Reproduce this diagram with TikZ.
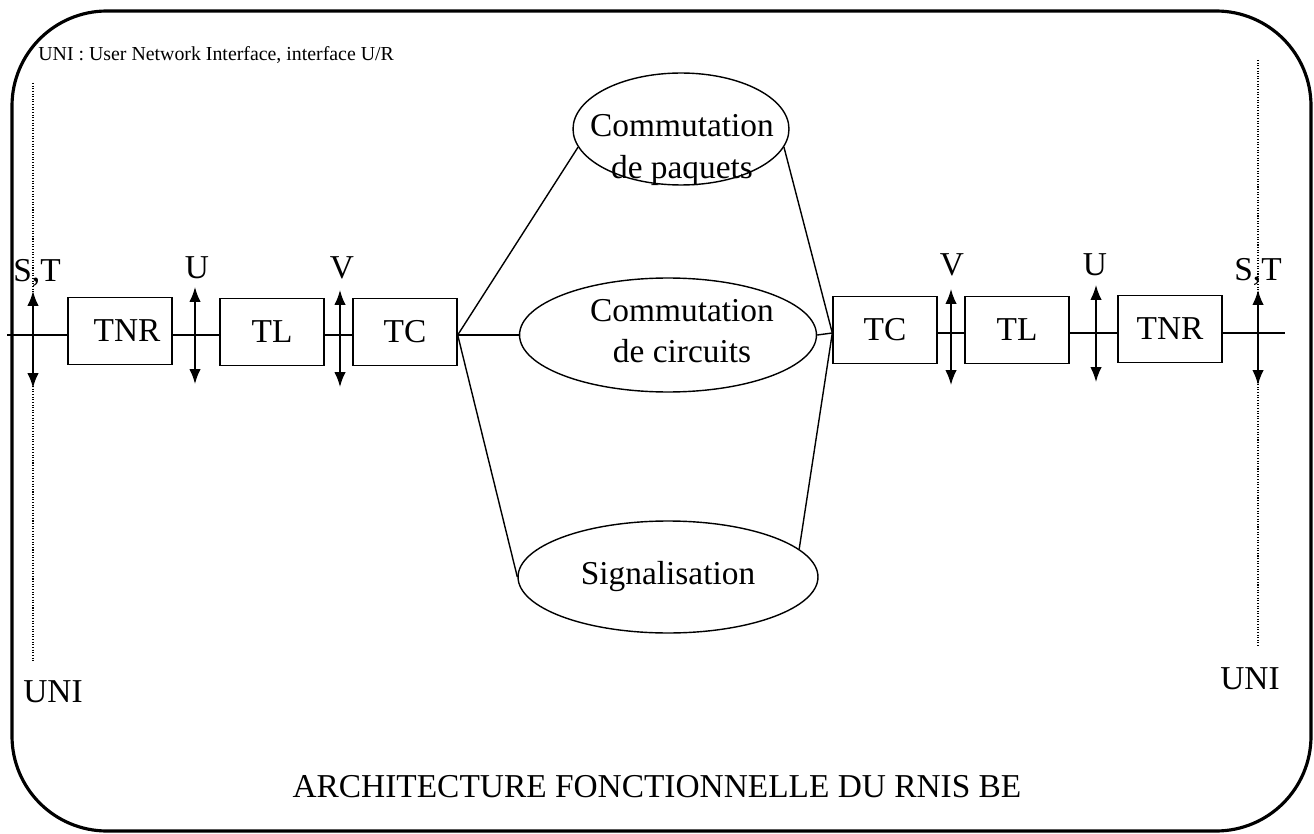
\documentclass[tikz,border=0pt]{standalone}
\usepackage{fontspec}
\setmainfont{Liberation Serif}
\usetikzlibrary{shapes.geometric,arrows.meta}
\begin{document}
\begin{tikzpicture}[x=0.02cm,y=-0.02cm,
  lbl/.style={font=\fontsize{19}{23.5}\selectfont, inner sep=0pt},
  small/.style={font=\fontsize{11.3}{14}\selectfont, inner sep=0pt},
  box/.style={draw, line width=0.8pt, minimum width=2.08cm, minimum height=1.34cm, inner sep=0pt, font=\fontsize{19}{23.5}\selectfont},
  ell/.style={draw, ellipse, line width=0.8pt, inner sep=0pt},
  link/.style={line width=0.8pt},
  iface/.style={line width=0.9pt, {Latex[length=8.5pt,width=6.5pt]}-{Latex[length=8.5pt,width=6.5pt]}},
  dots/.style={line width=0.6pt, dash pattern=on 0.6pt off 0.9pt},
  frame/.style={line width=1.8pt, rounded corners=1.9cm}]
\useasboundingbox (0,0) rectangle (1314,834);
\draw[frame] (12,11) rectangle (1311,831);

% header text
\node[small, anchor=west] (hdr) at (38,55) {UNI : User Network Interface, interface U/R};

% UNI dotted lines
\coordinate (dLt) at (33,83);
\coordinate (dLb) at (33,662);
\coordinate (dRt) at (1258,60);
\coordinate (dRb) at (1258,647);
\draw[dots] (dLt) -- (dLb);
\draw[dots] (dRt) -- (dRb);
\node[lbl] (uniL) at (53,692) {UNI};
\node[lbl] (uniR) at (1250,679) {UNI};

% ellipses
\node[ell, minimum width=4.32cm, minimum height=2.24cm] (pq) at (681,129) {};
\node[lbl, align=center] (pqt) at (682,150) {Commutation\\de paquets};
\node[ell, minimum width=5.94cm, minimum height=2.28cm] (cc) at (668,335) {};
\node[lbl, align=center] (cct) at (682,331) {Commutation\\de circuits};
\node[ell, minimum width=6.0cm, minimum height=2.24cm] (sg) at (668,577) {};
\node[lbl] (sgt) at (668,577) {Signalisation};

% boxes
\node[box] (tnrL) at (120,331) {\hspace*{8pt}TNR};
\node[box] (tlL) at (272,332) {TL};
\node[box] (tcL) at (405,332) {TC};
\node[box] (tcR) at (885,330) {TC};
\node[box] (tlR) at (1017,330) {TL};
\node[box] (tnrR) at (1170,329) {TNR};

% main line
\coordinate (L0) at (7,335);
\coordinate (R0) at (1285,333);
\coordinate (fanL) at (tcL.east |- L0);
\coordinate (fanR) at (tcR.west |- R0);
\draw[link] (L0) -- (tnrL.west |- L0);
\draw[link] (tnrL.east |- L0) -- (tlL.west |- L0);
\draw[link] (tlL.east |- L0) -- (tcL.west |- L0);
\draw[link] (tcR.east |- R0) -- (tlR.west |- R0);
\draw[link] (tlR.east |- R0) -- (tnrR.west |- R0);
\draw[link] (tnrR.east |- R0) -- (R0);

% fan connections
\draw[link] (fanL) -- (pq.190);
\draw[link] (fanL) -- (cc.west);
\draw[link] (fanL) -- (sg.west);
\draw[link] (pq.-10) -- (fanR);
\draw[link] (cc.east) -- (fanR);
\draw[link] (sg.12) -- (fanR);

% interface arrows
\coordinate (a1t) at (33,291);  \coordinate (a1b) at (33,388);
\coordinate (a2t) at (195,287); \coordinate (a2b) at (195,384);
\coordinate (a3t) at (340,290); \coordinate (a3b) at (340,387);
\coordinate (a4t) at (951,289); \coordinate (a4b) at (951,385);
\coordinate (a5t) at (1096,285); \coordinate (a5b) at (1096,382);
\coordinate (a6t) at (1258,290); \coordinate (a6b) at (1258,385);
\draw[iface] (a1t) -- (a1b);
\draw[iface] (a2t) -- (a2b);
\draw[iface] (a3t) -- (a3b);
\draw[iface] (a4t) -- (a4b);
\draw[iface] (a5t) -- (a5b);
\draw[iface] (a6t) -- (a6b);

% interface labels
\node[lbl] (stL) at (37,273) {S,T};
\node[lbl] (uL) at (197,268) {U};
\node[lbl] (vL) at (342,268) {V};
\node[lbl] (vR) at (952,265) {V};
\node[lbl] (uR) at (1095,265) {U};
\node[lbl] (stR) at (1258,272) {S,T};

% title
\node[lbl] (title) at (657,787) {ARCHITECTURE FONCTIONNELLE DU RNIS BE};
\end{tikzpicture}
\end{document}
